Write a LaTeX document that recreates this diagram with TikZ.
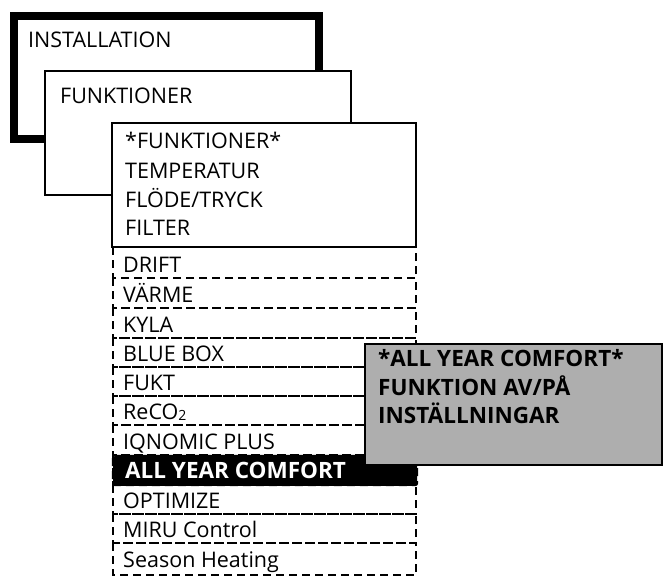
\documentclass[tikz,border=0pt]{standalone}
\usepackage{fontspec}
\setmainfont{Open Sans}
\definecolor{boxgrey}{RGB}{174,174,174}
\begin{document}
\begin{tikzpicture}[x=1pt,y=-1pt,
  txt/.style={anchor=base west, inner sep=0pt, font=\fontsize{21.5}{21.5}\selectfont},
  btxt/.style={anchor=base west, inner sep=0pt, font=\fontsize{22.5}{22.5}\selectfont\bfseries},
  rowbox/.style={draw, line width=2.4pt, dash pattern=on 8pt off 5pt},
  menubox/.style={draw, line width=2.5pt, fill=white}]
\useasboundingbox (0,0) rectangle (664,578);
% menu windows
\draw[line width=8pt, fill=white] (14,16) rectangle (319,139);
\node[txt] (inst) at (28,48) {INSTALLATION};
\draw[menubox] (45,71) rectangle (351,195);
\node[txt] (funk) at (60,103) {FUNKTIONER};
\draw[menubox] (112,123) rectangle (416,247);
\node[txt] (f1) at (125,148) {*FUNKTIONER*};
\node[txt] (f2) at (125,178) {TEMPERATUR};
\node[txt] (f3) at (125,207) {FLÖDE/TRYCK};
\node[txt] (f4) at (125,235) {FILTER};
% dashed rows
\foreach \a/\b in {247/278,278/308,308/338,338/367,367/396,396/425,425/455,455/485,485/514,514/543,543/575}
  \draw[rowbox] (113,\a) rectangle (416,\b);
\node[txt] (r1) at (123,272) {DRIFT};
\node[txt] (r2) at (123,302) {VÄRME};
\node[txt] (r3) at (123,332) {KYLA};
\node[txt] (r4) at (123,361) {BLUE BOX};
\node[txt] (r5) at (123,390) {FUKT};
\node[txt] (r6) at (123,419) {ReCO\raisebox{-1.5pt}{\fontsize{14}{14}\selectfont 2}};
\node[txt] (r7) at (123,449) {IQNOMIC PLUS};
\node[txt] (r9) at (123,508) {OPTIMIZE};
\node[txt] (r10) at (123,537) {MIRU Control};
\node[txt] (r11) at (123,567) {Season Heating};
% selected row
\draw[rowbox, fill=black, rounded corners=2pt] (113,456) rectangle (417,485);
\node[btxt, text=white] (r8) at (125,478) {ALL YEAR COMFORT};
% sub menu
\draw[line width=2.5pt, fill=boxgrey] (365,344) rectangle (662,465);
\node[btxt] (g1) at (378,366) {*ALL YEAR COMFORT*};
\node[btxt] (g2) at (378,395) {FUNKTION AV/PÅ};
\node[btxt] (g3) at (378,423) {INSTÄLLNINGAR};
\end{tikzpicture}
\end{document}
